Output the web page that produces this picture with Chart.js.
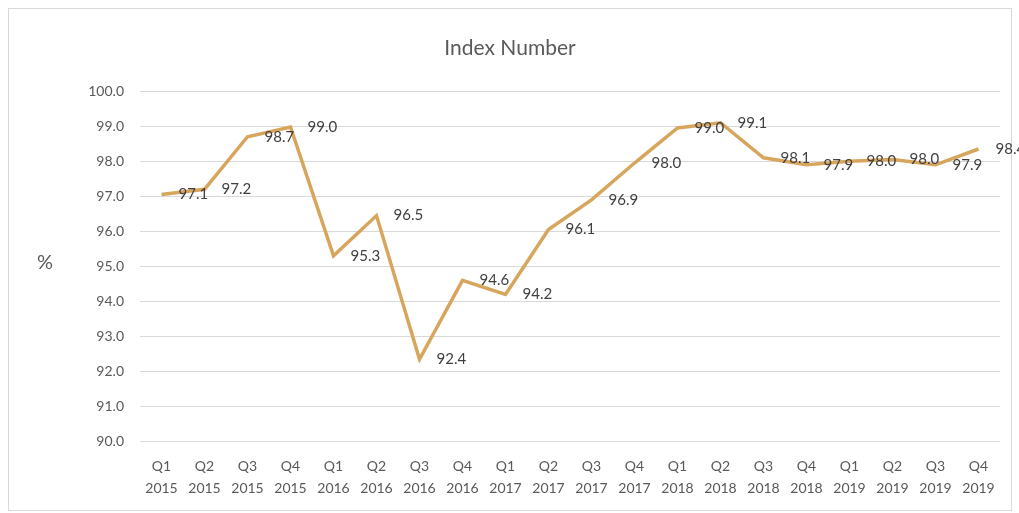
<!DOCTYPE html>
<html>
<head>
<meta charset="utf-8">
<script src="https://cdn.jsdelivr.net/npm/chart.js@4"></script>
<style>
  html, body { margin: 0; padding: 0; background: #fff; }
  #wrap { position: relative; width: 1019px; height: 513px; }
</style>
</head>
<body>
<div id="wrap"><canvas id="chart"></canvas></div>
<script>
const quarters = ['Q1', 'Q2', 'Q3', 'Q4', 'Q1', 'Q2', 'Q3', 'Q4', 'Q1', 'Q2', 'Q3', 'Q4', 'Q1', 'Q2', 'Q3', 'Q4', 'Q1', 'Q2', 'Q3', 'Q4'];
const years = ['2015', '2015', '2015', '2015', '2016', '2016', '2016', '2016', '2017', '2017', '2017', '2017', '2018', '2018', '2018', '2018', '2019', '2019', '2019', '2019'];
const indexValues = [97.05, 97.2, 98.7, 98.98, 95.3, 96.45, 92.35, 94.6, 94.2, 96.05, 96.9, 97.95, 98.95, 99.1, 98.1, 97.9, 98.0, 98.05, 97.9, 98.35];
const valueLabels = ['97.1', '97.2', '98.7', '99.0', '95.3', '96.5', '92.4', '94.6', '94.2', '96.1', '96.9', '98.0', '99.0', '99.1', '98.1', '97.9', '98.0', '98.0', '97.9', '98.4'];
const yMin = 90, yMax = 100, yStep = 1;

const FONT = 'Lato, "Open Sans", sans-serif';

// frame, "%" label and point labels
const extras = {
  id: 'extras',
  beforeDraw(chart) {
    const ctx = chart.ctx;
    ctx.save();
    ctx.strokeStyle = '#d9d9d9';
    ctx.lineWidth = 1;
    ctx.strokeRect(8.5, 8.5, 1003, 502);
    ctx.restore();
  },
  afterDatasetsDraw(chart) {
    const ctx = chart.ctx;
    const area = chart.chartArea;
    ctx.save();
    ctx.fillStyle = '#595959';
    ctx.font = '20px ' + FONT;
    ctx.textAlign = 'center';
    ctx.textBaseline = 'middle';
    ctx.fillText('%', 45, (area.top + area.bottom) / 2 - 4);

    ctx.fillStyle = '#404040';
    ctx.font = '15px ' + FONT;
    ctx.textAlign = 'left';
    chart.getDatasetMeta(0).data.forEach((pt, i) => {
      ctx.fillText(valueLabels[i], pt.x + 17, pt.y);
    });
    ctx.restore();
  }
};

new Chart(document.getElementById('chart'), {
  type: 'line',
  data: {
    labels: quarters.map((q, i) => [q, years[i]]),
    datasets: [{
      data: indexValues,
      borderColor: '#d8a55c',
      borderWidth: 3.5,
      pointRadius: 0,
      tension: 0,
      fill: false
    }]
  },
  options: {
    responsive: true,
    maintainAspectRatio: false,
    animation: false,
    layout: { padding: { left: 20, right: 19, top: 26, bottom: 8 } },
    plugins: {
      legend: { display: false },
      tooltip: { enabled: false },
      title: {
        display: true,
        text: 'Index Number',
        color: '#595959',
        font: { family: FONT, size: 21, weight: 'normal' },
        padding: { top: 10, bottom: 30 }
      }
    },
    scales: {
      x: {
        offset: true,
        grid: { display: false },
        border: { display: false },
        ticks: {
          color: '#595959',
          font: { family: FONT, size: 14, lineHeight: 1.55 },
          maxRotation: 0,
          autoSkip: false,
          padding: 6
        }
      },
      y: {
        min: yMin,
        max: yMax,
        afterFit(scale) { scale.width = 120; },
        grid: { color: '#d9d9d9', drawTicks: false },
        border: { display: false },
        ticks: {
          stepSize: yStep,
          color: '#595959',
          font: { family: FONT, size: 14 },
          padding: 16,
          callback: v => v.toFixed(1)
        }
      }
    }
  },
  plugins: [extras]
});
</script>
</body>
</html>
